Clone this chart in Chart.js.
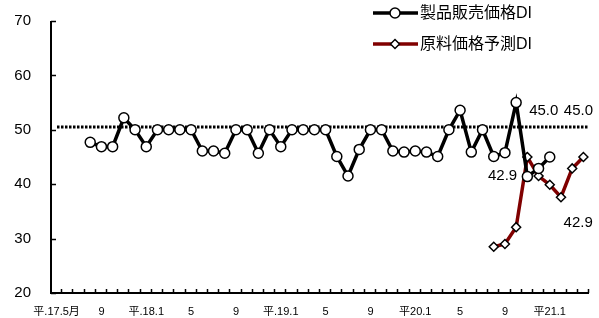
<!DOCTYPE html>
<html>
<head>
<meta charset="utf-8">
<script src="https://cdn.jsdelivr.net/npm/chart.js@4/dist/chart.umd.min.js"></script>
<style>
  html, body { margin: 0; padding: 0; background: #fff; }
  #wrap { width: 599px; height: 318px; }
</style>
</head>
<body>
<div id="wrap"><canvas id="chart" width="599" height="318"></canvas></div>
<script>
// months May 2005 (平17.5) .. Apr 2009, only some carry a label
const months = [
    '平.17.5月', '', '', '', '9', '', '', '', '平.18.1', '', '', '',
    '5', '', '', '', '9', '', '', '', '平.19.1', '', '', '',
    '5', '', '', '', '9', '', '', '', '平20.1', '', '', '',
    '5', '', '', '', '9', '', '', '', '平21.1', '', '', ''
];

// 製品販売価格DI (Aug 2005 .. Jan 2009)
const salesDI = [
    null, null, null,
    47.7, 46.9, 46.9, 52.2, 50.0,
    46.9, 50.0, 50.0, 50.0, 50.0, 46.1, 46.1, 45.7, 50.0, 50.0, 45.7, 50.0,
    46.9, 50.0, 50.0, 50.0, 50.0, 45.1, 41.5, 46.4, 50.0, 50.0, 46.1, 45.9,
    46.1, 45.9, 45.1, 50.0, 53.6, 45.9, 50.0, 45.1, 45.8, 55.0, 41.4, 42.9,
    45.0, null, null, null
];

// 原料価格予測DI (Aug 2008 .. Apr 2009)
const materialDI = [
    null, null, null, null, null, null, null, null, null, null, null, null,
    null, null, null, null, null, null, null, null, null, null, null, null,
    null, null, null, null, null, null, null, null, null, null, null, null,
    null, null, null, 28.5, 29.0, 32.1, 45.0, 41.5, 39.9, 37.6, 42.9, 45.0
];

const refLevel = 50.5;

// [dataset, index, dx, dy]
const valueLabels = [
    [0, 43, -36, 7],
    [0, 44, -6, -46],
    [1, 46, 6, 54],
    [1, 47, -5, -46]
];

const FONT = '"Liberation Sans", "Noto Sans CJK JP", sans-serif';

const axisPlugin = {
    id: 'axisPlugin',
    beforeDatasetsDraw(chart) {
        const { ctx, chartArea, scales } = chart;
        const y = scales.y.getPixelForValue(refLevel);
        ctx.save();
        ctx.strokeStyle = '#000';
        ctx.lineWidth = 3;
        ctx.setLineDash([2.5, 1.5]);
        ctx.beginPath();
        ctx.moveTo(chartArea.left + 6, y);
        ctx.lineTo(chartArea.right, y);
        ctx.stroke();
        ctx.restore();
    },
    afterDraw(chart) {
        const { ctx, chartArea, scales } = chart;
        ctx.save();
        ctx.strokeStyle = '#000';
        ctx.lineWidth = 2;
        ctx.beginPath();
        ctx.moveTo(chartArea.left, chartArea.top);
        ctx.lineTo(chartArea.left, chartArea.bottom);
        ctx.lineTo(chartArea.right, chartArea.bottom);
        ctx.stroke();

        // inward tick marks
        ctx.lineWidth = 1.5;
        ctx.beginPath();
        scales.y.ticks.forEach((t) => {
            const py = Math.round(scales.y.getPixelForValue(t.value)) + 0.5;
            ctx.moveTo(chartArea.left, py);
            ctx.lineTo(chartArea.left + 5, py);
        });
        const step = (chartArea.right - chartArea.left) / months.length;
        for (let i = 1; i <= months.length; i++) {
            const px = Math.round(chartArea.left + step * i) - 0.5;
            ctx.moveTo(px, chartArea.bottom);
            ctx.lineTo(px, chartArea.bottom - 4);
        }
        ctx.stroke();

        // value labels
        ctx.fillStyle = '#000';
        ctx.font = '15px ' + FONT;
        ctx.textAlign = 'center';
        ctx.textBaseline = 'middle';
        valueLabels.forEach(([ds, i, dx, dy]) => {
            const pt = chart.getDatasetMeta(ds).data[i];
            const v = chart.data.datasets[ds].data[i];
            ctx.fillText(v.toFixed(1), pt.x + dx, pt.y + dy);
        });

        // legend
        const items = [
            { text: '製品販売価格DI', color: '#000', style: 'circle', y: 13 },
            { text: '原料価格予測DI', color: '#800000', style: 'rectRot', y: 44 }
        ];
        ctx.textAlign = 'left';
        items.forEach((it) => {
            ctx.strokeStyle = it.color;
            ctx.lineWidth = 3.5;
            ctx.beginPath();
            ctx.moveTo(373, it.y);
            ctx.lineTo(418, it.y);
            ctx.stroke();
            ctx.fillStyle = '#fff';
            ctx.strokeStyle = '#000';
            ctx.lineWidth = 1.5;
            Chart.helpers.drawPoint(ctx, {
                pointStyle: it.style,
                radius: it.style === 'circle' ? 5 : 4.5,
                borderWidth: 1.5
            }, 395, it.y);
            ctx.fillStyle = '#000';
            ctx.font = '16px ' + FONT;
            ctx.fillText(it.text, 420, it.y + 1);
        });
        ctx.restore();
    }
};

new Chart(document.getElementById('chart'), {
    type: 'line',
    data: {
        labels: months,
        datasets: [{
            label: '製品販売価格DI',
            data: salesDI,
            borderColor: '#000',
            borderWidth: 3.5,
            pointStyle: 'circle',
            pointRadius: 5,
            pointBackgroundColor: '#fff',
            pointBorderColor: '#000',
            pointBorderWidth: 1.5,
            tension: 0
        }, {
            label: '原料価格予測DI',
            data: materialDI,
            borderColor: '#800000',
            borderWidth: 3.5,
            pointStyle: 'rectRot',
            pointRadius: 4.5,
            pointBackgroundColor: '#fff',
            pointBorderColor: '#000',
            pointBorderWidth: 1.5,
            tension: 0
        }]
    },
    options: {
        responsive: false,
        animation: false,
        layout: { autoPadding: false, padding: { top: 21, right: 10, left: 0, bottom: 0 } },
        plugins: {
            legend: { display: false },
            tooltip: { enabled: false }
        },
        scales: {
            x: {
                offset: true,
                afterFit: (s) => { s.height = 25; },
                grid: { display: false, drawTicks: false },
                border: { display: false },
                ticks: {
                    autoSkip: false,
                    maxRotation: 0,
                    padding: 12,
                    color: '#000',
                    font: { size: 11, family: FONT }
                }
            },
            y: {
                min: 20,
                max: 70,
                afterFit: (s) => {
                    s.width = 51;
                    s.paddingTop = 0;
                    s.paddingBottom = 0;
                },
                grid: { display: false, drawTicks: false },
                border: { display: false },
                ticks: {
                    stepSize: 10,
                    padding: 20,
                    color: '#000',
                    font: { size: 15, family: FONT }
                }
            }
        }
    },
    plugins: [axisPlugin]
});
</script>
</body>
</html>
